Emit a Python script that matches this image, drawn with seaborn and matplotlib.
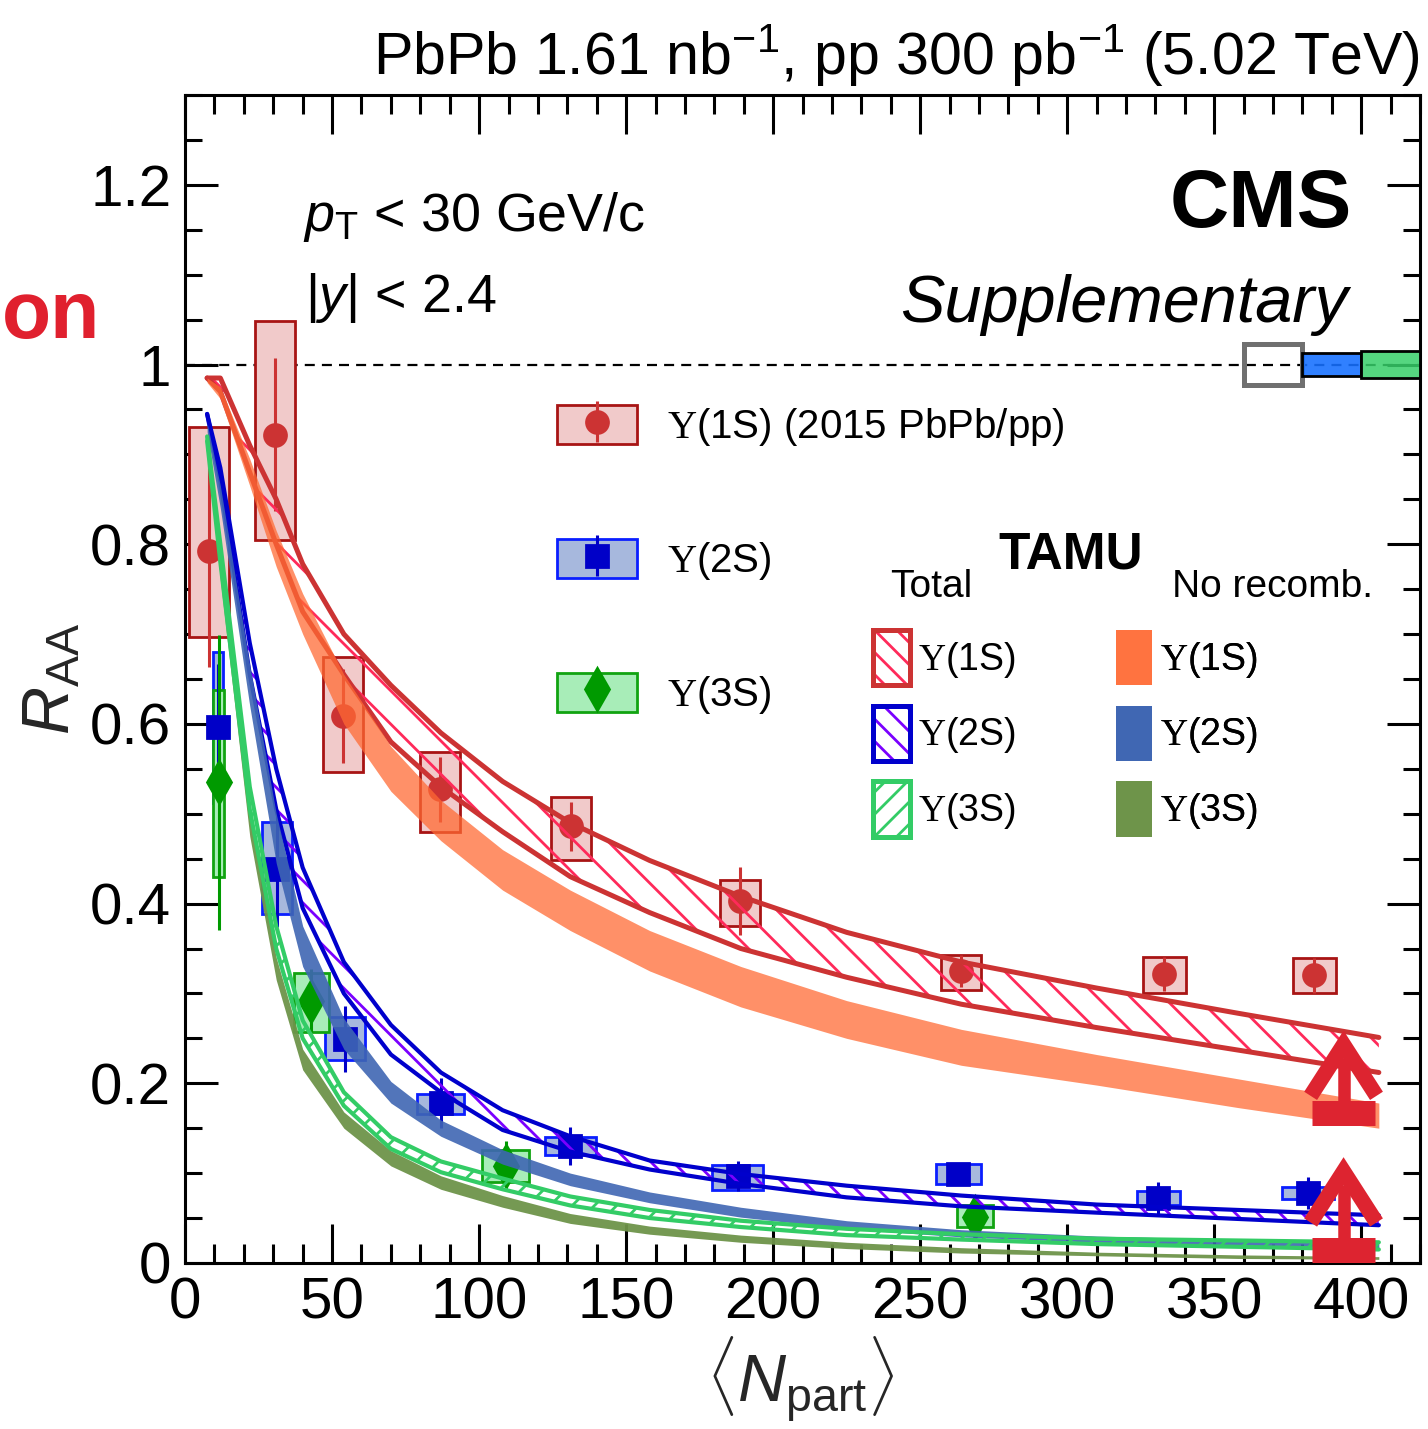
import matplotlib
matplotlib.use("Agg")
import matplotlib.pyplot as plt
from matplotlib.patches import Patch
from matplotlib.legend_handler import HandlerTuple
from matplotlib.ticker import MultipleLocator, FuncFormatter
import seaborn as sns

# ---------------- measured R_AA vs <Npart> ----------------
# Upsilon(1S), 2015 PbPb/pp
n_1s = [8.3, 30.6, 53.7, 86.7, 131.3, 188.8, 264.0, 333.0, 384.0]
r_1s = [0.793, 0.922, 0.609, 0.527, 0.486, 0.403, 0.325, 0.322, 0.320]
stat_1s = [0.13, 0.085, 0.052, 0.036, 0.027, 0.038, 0.018, 0.019, 0.019]
sys_lo_1s = [0.697, 0.805, 0.547, 0.480, 0.449, 0.375, 0.304, 0.300, 0.301]
sys_hi_1s = [0.931, 1.049, 0.674, 0.569, 0.519, 0.426, 0.343, 0.340, 0.339]
w_1s = [13.6, 13.6, 13.6, 13.6, 13.6, 13.6, 13.6, 14.6, 14.6]

# Upsilon(2S)
n_2s = [11.2, 31.3, 54.4, 87.0, 131.0, 188.0, 263.0, 331.0, 382.0]
r_2s = [0.597, 0.439, 0.249, 0.178, 0.130, 0.097, 0.099, 0.072, 0.078]
stat_2s = [0.07, 0.065, 0.037, 0.028, 0.021, 0.017, 0.012, 0.018, 0.018]
sys_lo_2s = [0.512, 0.388, 0.226, 0.166, 0.120, 0.081, 0.088, 0.065, 0.071]
sys_hi_2s = [0.680, 0.491, 0.274, 0.188, 0.140, 0.109, 0.110, 0.080, 0.085]
w_2s = [3.4, 10.2, 13.6, 16.0, 17.3, 17.3, 15.3, 14.6, 17.7]

# Upsilon(3S)
n_3s = [11.5, 42.9, 109.0, 268.7]
r_3s = [0.535, 0.292, 0.108, 0.051]
stat_3s = [0.164, 0.035, 0.028, 0.010]
sys_lo_3s = [0.430, 0.257, 0.090, 0.040]
sys_hi_3s = [0.638, 0.323, 0.126, 0.065]
w_3s = [3.7, 11.9, 16.0, 12.2]

# global uncertainties drawn at R_AA = 1 (pp lumi, 2S, 3S)
glob_n = [370, 390, 410]
glob_err = [0.023, 0.013, 0.015]

# lower-limit arrows for the most central bin
arrow_n = [394, 394]
arrow_base = [0.167, 0.0145]
arrow_tip = [0.243, 0.102]

# ---------------- TAMU transport model ----------------
n_grid = [7.5, 12, 22, 31, 40, 54, 70, 87, 108, 131, 158, 189, 225, 264, 310, 358, 406]
# total (with regeneration)
tot_hi_1s = [0.985, 0.985, 0.91, 0.85, 0.778, 0.700, 0.643, 0.590, 0.536, 0.490, 0.448, 0.408, 0.368, 0.335, 0.306, 0.278, 0.251]
tot_lo_1s = [0.985, 0.97, 0.88, 0.80, 0.725, 0.655, 0.58, 0.53, 0.48, 0.43, 0.39, 0.35, 0.318, 0.288, 0.262, 0.237, 0.212]
tot_hi_2s = [0.945, 0.885, 0.69, 0.55, 0.44, 0.335, 0.265, 0.212, 0.170, 0.141, 0.114, 0.099, 0.086, 0.075, 0.065, 0.059, 0.053]
tot_lo_2s = [0.945, 0.87, 0.655, 0.505, 0.395, 0.30, 0.232, 0.19, 0.148, 0.124, 0.104, 0.088, 0.073, 0.063, 0.056, 0.049, 0.042]
tot_hi_3s = [0.92, 0.80, 0.53, 0.375, 0.27, 0.19, 0.14, 0.113, 0.094, 0.074, 0.059, 0.047, 0.038, 0.032, 0.027, 0.025, 0.023]
tot_lo_3s = [0.915, 0.78, 0.505, 0.35, 0.25, 0.175, 0.127, 0.101, 0.082, 0.064, 0.050, 0.040, 0.031, 0.026, 0.021, 0.018, 0.015]
# primordial only (no recombination)
nr_hi_1s = [0.985, 0.975, 0.895, 0.815, 0.745, 0.655, 0.575, 0.515, 0.46, 0.415, 0.37, 0.33, 0.292, 0.26, 0.232, 0.205, 0.178]
nr_lo_1s = [0.98, 0.962, 0.865, 0.775, 0.70, 0.60, 0.525, 0.47, 0.415, 0.37, 0.325, 0.285, 0.25, 0.22, 0.198, 0.173, 0.15]
nr_hi_2s = [0.935, 0.865, 0.665, 0.50, 0.375, 0.272, 0.202, 0.159, 0.126, 0.10, 0.079, 0.062, 0.047, 0.037, 0.030, 0.026, 0.023]
nr_lo_2s = [0.925, 0.84, 0.62, 0.445, 0.33, 0.238, 0.178, 0.141, 0.11, 0.086, 0.067, 0.051, 0.038, 0.029, 0.023, 0.019, 0.016]
nr_hi_3s = [0.915, 0.775, 0.50, 0.34, 0.238, 0.168, 0.125, 0.097, 0.075, 0.055, 0.041, 0.031, 0.023, 0.017, 0.012, 0.009, 0.007]
nr_lo_3s = [0.91, 0.76, 0.475, 0.315, 0.215, 0.150, 0.108, 0.082, 0.062, 0.044, 0.032, 0.023, 0.016, 0.011, 0.008, 0.005, 0.004]

x_ticks = [0, 50, 100, 150, 200, 250, 300, 350, 400]
y_ticks = [0, 0.2, 0.4, 0.6, 0.8, 1.0, 1.2]

# ---------------- style ----------------
sns.set_theme(style="ticks")
plt.rcParams.update({
    "font.family": ["Liberation Sans", "DejaVu Sans"],
    "mathtext.fontset": "custom",
    "mathtext.rm": "Liberation Serif",
    "mathtext.it": "Liberation Sans:italic",
    "mathtext.sf": "Liberation Sans",
    "mathtext.bf": "Liberation Sans:bold",
    "hatch.linewidth": 1.0,
    "axes.linewidth": 1.1,
    "axes.edgecolor": "black",
    "xtick.color": "black",
    "ytick.color": "black",
    "text.color": "black",
    "axes.facecolor": "white",
})

C_RED_FILL, C_RED_EDGE, C_RED_MK = "#f1caca", "#a81414", "#cc3333"
C_BLU_FILL, C_BLU_EDGE, C_BLU_MK = "#a7b8dd", "#0a1eff", "#0000c8"
C_GRN_FILL, C_GRN_EDGE, C_GRN_MK = "#a8edb8", "#11a311", "#009a00"
C_ORANGE, C_STEEL, C_OLIVE = "#ff6a33", "#3f66b3", "#6e944a"
C_LINE_1S, C_HATCH_1S = "#cc3333", "#ff2a5a"
C_LINE_2S, C_HATCH_2S = "#0000cc", "#7a00ff"
C_LINE_3S = "#33cc66"
C_ARROW = "#dd2430"

fig = plt.figure(figsize=(7.14, 7.145), dpi=200)
ax = fig.add_axes([0.1296, 0.1162, 0.8648, 0.8173])

# reference line and global uncertainty boxes
ax.axhline(1.0, color="black", lw=0.8, ls=(0, (4.5, 3.2)), zorder=2)
glob_face = ["none", (0.086, 0.44, 1.0, 0.89), (0.216, 0.812, 0.416, 0.85)]
glob_edge = ["#707070", "black", "black"]
glob_lw = [1.8, 1.0, 1.0]
for gx, ge, fc, ec, lw in zip(glob_n, glob_err, glob_face, glob_edge, glob_lw):
    ax.bar(gx, 2 * ge, bottom=1 - ge, width=20, facecolor=fc, edgecolor=ec,
           linewidth=lw, zorder=3)

# data: systematic boxes + statistical error bars
series = [
    (n_1s, r_1s, stat_1s, sys_lo_1s, sys_hi_1s, w_1s, C_RED_FILL, C_RED_EDGE, C_RED_MK, "o", 7.9),
    (n_2s, r_2s, stat_2s, sys_lo_2s, sys_hi_2s, w_2s, C_BLU_FILL, C_BLU_EDGE, C_BLU_MK, "s", 7.6),
    (n_3s, r_3s, stat_3s, sys_lo_3s, sys_hi_3s, w_3s, C_GRN_FILL, C_GRN_EDGE, C_GRN_MK, "d", 10.5),
]
containers = []
for n, r, st, lo, hi, w, fill, edge, mk, marker, ms in series:
    heights = [h - l for h, l in zip(hi, lo)]
    ax.bar(n, heights, bottom=lo, width=w, facecolor=fill, edgecolor=edge,
           linewidth=1.0, zorder=2)
    ec_ = ax.errorbar(n, r, yerr=st, fmt=marker, ms=ms, color=mk, mec=mk,
                      ecolor=mk, elinewidth=1.1, capsize=0, zorder=3)
    containers.append(ec_)

# TAMU bands: hatched totals with solid outlines, solid no-recombination bands
ax.fill_between(n_grid, tot_lo_1s, tot_hi_1s, facecolor="none", edgecolor=C_HATCH_1S,
                hatch="\\\\", linewidth=0, zorder=4)
ax.fill_between(n_grid, tot_lo_2s, tot_hi_2s, facecolor="none", edgecolor=C_HATCH_2S,
                hatch="\\\\\\", linewidth=0, zorder=4)
for hi_, lo_, c, lw in [(tot_hi_1s, tot_lo_1s, C_LINE_1S, 1.8),
                        (tot_hi_2s, tot_lo_2s, C_LINE_2S, 1.5)]:
    sns.lineplot(x=n_grid, y=hi_, ax=ax, color=c, lw=lw, zorder=5)
    sns.lineplot(x=n_grid, y=lo_, ax=ax, color=c, lw=lw, zorder=5)

ax.fill_between(n_grid, nr_lo_1s, nr_hi_1s, color=C_ORANGE, alpha=0.74, lw=0, zorder=6)
ax.fill_between(n_grid, nr_lo_2s, nr_hi_2s, color=C_STEEL, alpha=0.9, lw=0, zorder=6)
ax.fill_between(n_grid, nr_lo_3s, nr_hi_3s, color=C_OLIVE, alpha=0.95, lw=0, zorder=6.5)

ax.fill_between(n_grid, tot_lo_3s, tot_hi_3s, facecolor="none", edgecolor=C_LINE_3S,
                hatch="///", linewidth=0, zorder=7)
sns.lineplot(x=n_grid, y=tot_hi_3s, ax=ax, color=C_LINE_3S, lw=1.5, zorder=7)
sns.lineplot(x=n_grid, y=tot_lo_3s, ax=ax, color=C_LINE_3S, lw=1.5, zorder=7)

# lower-limit arrows
for an, ab, at in zip(arrow_n, arrow_base, arrow_tip):
    ax.plot([an - 10.7, an + 10.7], [ab, ab], color=C_ARROW, lw=9,
            solid_capstyle="butt", zorder=10)
    ax.plot([an, an], [ab, at - 0.015], color=C_ARROW, lw=4.5,
            solid_capstyle="butt", zorder=10)
    ax.plot([an - 11.2, an, an + 11.2], [at - 0.057, at, at - 0.057], color=C_ARROW,
            lw=5.5, solid_capstyle="butt", solid_joinstyle="miter", zorder=10)

# axes
ax.set_xlim(0, 420)
ax.set_ylim(0, 1.3)
ax.set_xticks(x_ticks)
ax.set_yticks(y_ticks)
ax.xaxis.set_minor_locator(MultipleLocator(10))
ax.yaxis.set_minor_locator(MultipleLocator(0.05))
ax.yaxis.set_major_formatter(FuncFormatter(lambda v, p: f"{v:g}"))
ax.tick_params(axis="x", which="major", direction="in", length=14, width=1.1,
               top=True, bottom=True, labelsize=21, pad=5)
ax.tick_params(axis="x", which="minor", direction="in", length=7, width=1.1,
               top=True, bottom=True)
ax.tick_params(axis="y", which="major", direction="in", length=12, width=1.1,
               left=True, right=True, labelsize=21, pad=5)
ax.tick_params(axis="y", which="minor", direction="in", length=6, width=1.1,
               left=True, right=True)
for s in ax.spines.values():
    s.set_visible(True)
    s.set_linewidth(1.1)

ax.set_xlabel(r"$\langle N_{\mathsf{part}}\rangle$", fontsize=24)
ax.xaxis.set_label_coords(0.498, -0.061)
ax.set_ylabel(r"$R_{\mathsf{AA}}$", fontsize=24)
ax.yaxis.set_label_coords(-0.082, 0.50)

# annotations
fig.text(0.9944, 0.9475, r"PbPb 1.61 nb$^{\mathsf{-1}}$, pp 300 pb$^{\mathsf{-1}}$ (5.02 TeV)",
         ha="right", va="baseline", fontsize=21.3)
fig.text(0.001, 0.7635, "on", ha="left", va="baseline", fontsize=29,
         fontweight="bold", color="#e0202e")
ax.text(0.945, 0.887, "CMS", transform=ax.transAxes, ha="right", va="baseline",
        fontsize=29.5, fontweight="bold")
ax.text(0.9417, 0.806, "Supplementary", transform=ax.transAxes, ha="right",
        va="baseline", fontsize=24, style="italic")
ax.text(0.0955, 0.884, r"$p_{\mathsf{T}}$ < 30 GeV/c", transform=ax.transAxes,
        ha="left", va="baseline", fontsize=19.4)
ax.text(0.097, 0.814, r"|$y$| < 2.4", transform=ax.transAxes,
        ha="left", va="baseline", fontsize=19.4)

overlay = {tuple: HandlerTuple(ndivide=1, pad=0)}

# data legend
data_handles = [
    (Patch(facecolor=C_RED_FILL, edgecolor=C_RED_EDGE, lw=1.0), containers[0]),
    (Patch(facecolor=C_BLU_FILL, edgecolor=C_BLU_EDGE, lw=1.0), containers[1]),
    (Patch(facecolor=C_GRN_FILL, edgecolor=C_GRN_EDGE, lw=1.0), containers[2]),
]
data_labels = [r"$\Upsilon$(1S) (2015 PbPb/pp)", r"$\Upsilon$(2S)", r"$\Upsilon$(3S)"]
leg1 = ax.legend(data_handles, data_labels, loc="upper left",
                 bbox_to_anchor=(0.301, 0.7346), frameon=False, fontsize=14.5,
                 handlelength=1.98, handleheight=1.12, handletextpad=0.76,
                 labelspacing=2.25, borderpad=0, borderaxespad=0,
                 handler_map=overlay)
ax.add_artist(leg1)

# TAMU legends
tot_handles = [
    (Patch(facecolor="white", edgecolor=C_HATCH_1S, hatch="\\\\\\", lw=0),
     Patch(facecolor="none", edgecolor=C_LINE_1S, lw=1.8)),
    (Patch(facecolor="white", edgecolor=C_HATCH_2S, hatch="\\\\\\", lw=0),
     Patch(facecolor="none", edgecolor=C_LINE_2S, lw=1.8)),
    (Patch(facecolor="white", edgecolor=C_LINE_3S, hatch="///", lw=0),
     Patch(facecolor="none", edgecolor=C_LINE_3S, lw=1.8)),
]
nr_handles = [
    Patch(facecolor=C_ORANGE, alpha=0.74, lw=0),
    Patch(facecolor=C_STEEL, alpha=0.9, lw=0),
    Patch(facecolor=C_OLIVE, alpha=0.95, lw=0),
]
state_labels = [r"$\Upsilon$(1S)", r"$\Upsilon$(2S)", r"$\Upsilon$(3S)"]
leg2 = ax.legend(tot_handles, state_labels, loc="upper left",
                 bbox_to_anchor=(0.557, 0.542), frameon=False, fontsize=13.5,
                 handlelength=1.0, handleheight=1.9, handletextpad=0.2,
                 labelspacing=0.54, borderpad=0, borderaxespad=0,
                 handler_map=overlay)
ax.add_artist(leg2)
leg3 = ax.legend(nr_handles, state_labels, loc="upper left",
                 bbox_to_anchor=(0.754, 0.542), frameon=False, fontsize=13.5,
                 handlelength=0.96, handleheight=1.9, handletextpad=0.2,
                 labelspacing=0.54, borderpad=0, borderaxespad=0)
ax.add_artist(leg3)

ax.text(0.7174, 0.595, "TAMU", transform=ax.transAxes, ha="center", va="baseline",
        fontsize=18.5, fontweight="bold")
ax.text(0.571, 0.570, "Total", transform=ax.transAxes, ha="left", va="baseline",
        fontsize=14)
ax.text(0.799, 0.570, "No recomb.", transform=ax.transAxes, ha="left", va="baseline",
        fontsize=14)

fig.savefig("out.png", dpi=200)
